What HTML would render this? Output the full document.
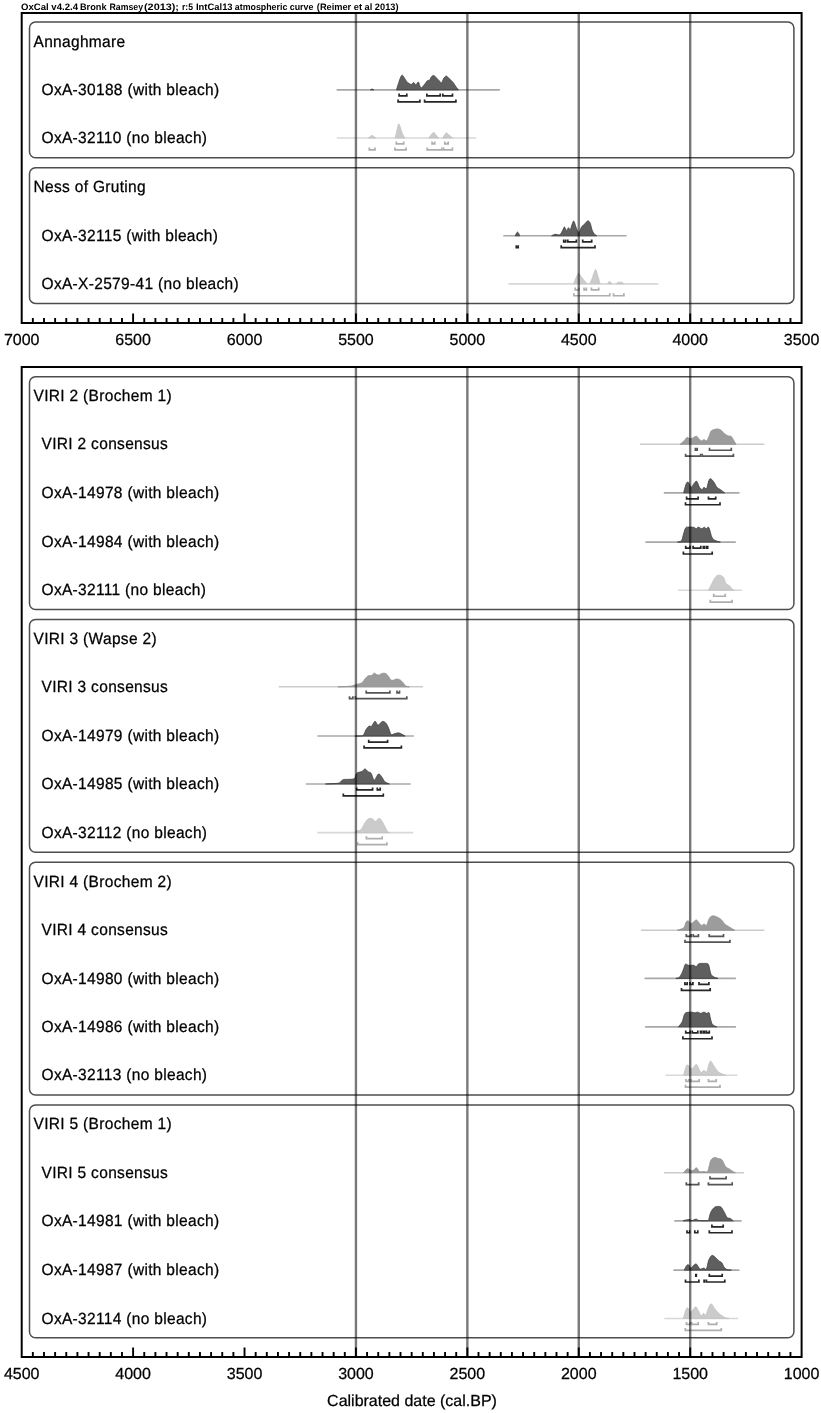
<!DOCTYPE html>
<html><head><meta charset="utf-8"><title>OxCal plot</title>
<style>html,body{margin:0;padding:0;background:#fff;width:821px;height:1413px;overflow:hidden}</style>
</head><body>
<svg width="821" height="1413" viewBox="0 0 821 1413" style="display:block" text-rendering="geometricPrecision">
<rect x="0" y="0" width="821" height="1413" fill="#fff"/>
<text y="10.3" font-family="'Liberation Sans', Arial, sans-serif" font-weight="bold" font-size="9.3" fill="#000" xml:space="preserve"><tspan x="21" textLength="57" lengthAdjust="spacingAndGlyphs">OxCal v4.2.4</tspan> <tspan x="80" textLength="26.5" lengthAdjust="spacingAndGlyphs">Bronk</tspan> <tspan x="109.5" textLength="33.5" lengthAdjust="spacingAndGlyphs">Ramsey</tspan> <tspan x="144" textLength="35" lengthAdjust="spacingAndGlyphs">(2013);</tspan> <tspan x="182" textLength="11" lengthAdjust="spacingAndGlyphs">r:5</tspan> <tspan x="196" textLength="36.6" lengthAdjust="spacingAndGlyphs">IntCal13</tspan> <tspan x="234.8" textLength="78.6" lengthAdjust="spacingAndGlyphs">atmospheric curve</tspan> <tspan x="316.8" textLength="81.7" lengthAdjust="spacingAndGlyphs">(Reimer et al 2013)</tspan></text>
<rect x="29.5" y="22.08" width="764.4" height="135.65" rx="6" ry="6" fill="none" stroke="#4d4d4d" stroke-width="1.5"/>
<text transform="translate(33.5,46.58) scale(1,1.045)" font-family="'Liberation Sans', Arial, sans-serif" font-size="15.5" letter-spacing="0.32" fill="#000" stroke="#000" stroke-width="0.25">Annaghmare</text>
<text transform="translate(41.5,95) scale(1,1.045)" font-family="'Liberation Sans', Arial, sans-serif" font-size="15.5" letter-spacing="0.32" fill="#000" stroke="#000" stroke-width="0.25">OxA-30188 (with bleach)</text>
<text transform="translate(41.5,143.05) scale(1,1.045)" font-family="'Liberation Sans', Arial, sans-serif" font-size="15.5" letter-spacing="0.32" fill="#000" stroke="#000" stroke-width="0.25">OxA-32110 (no bleach)</text>
<rect x="29.5" y="167.73" width="764.4" height="135.65" rx="6" ry="6" fill="none" stroke="#4d4d4d" stroke-width="1.5"/>
<text transform="translate(33.5,192.23) scale(1,1.045)" font-family="'Liberation Sans', Arial, sans-serif" font-size="15.5" letter-spacing="0.32" fill="#000" stroke="#000" stroke-width="0.25">Ness of Gruting</text>
<text transform="translate(41.5,240.9) scale(1,1.045)" font-family="'Liberation Sans', Arial, sans-serif" font-size="15.5" letter-spacing="0.32" fill="#000" stroke="#000" stroke-width="0.25">OxA-32115 (with bleach)</text>
<text transform="translate(41.5,288.94) scale(1,1.045)" font-family="'Liberation Sans', Arial, sans-serif" font-size="15.5" letter-spacing="0.32" fill="#000" stroke="#000" stroke-width="0.25">OxA-X-2579-41 (no bleach)</text>
<line x1="336.6" y1="89.9" x2="499.9" y2="89.9" stroke="#a8a8a8" stroke-width="1.6"/>
<path d="M370.5,89.9 L370.7,89.77 L370.97,89.56 L371.29,89.34 L371.64,89.17 L372,89.1 L372.4,89.17 L372.86,89.34 L373.32,89.56 L373.72,89.77 L374,89.9Z" fill="#5f5f5f" stroke="#3c3c3c" stroke-width="0.8" stroke-linejoin="round"/>
<path d="M396.4,89.9 L396.61,89.24 L396.91,88.31 L397.25,87.21 L397.63,86.04 L398,84.9 L398.37,83.73 L398.77,82.46 L399.18,81.18 L399.59,79.97 L400,78.9 L400.4,77.92 L400.8,76.97 L401.2,76.14 L401.6,75.53 L402,75.2 L402.39,75.23 L402.77,75.56 L403.16,76.1 L403.56,76.74 L404,77.4 L404.48,78.13 L405.01,79.01 L405.55,79.93 L406.08,80.79 L406.6,81.5 L407.09,82.04 L407.57,82.46 L408.04,82.81 L408.52,83.11 L409,83.4 L409.5,83.7 L410.01,84 L410.52,84.25 L411.02,84.4 L411.5,84.4 L411.96,84.14 L412.4,83.64 L412.83,83.09 L413.26,82.65 L413.7,82.5 L414.14,82.79 L414.57,83.4 L415.01,84.12 L415.45,84.69 L415.9,84.9 L416.38,84.54 L416.88,83.78 L417.38,82.9 L417.86,82.2 L418.3,82 L418.69,82.44 L419.04,83.34 L419.37,84.44 L419.68,85.5 L420,86.3 L420.28,86.87 L420.52,87.36 L420.77,87.72 L421.08,87.89 L421.5,87.8 L422.07,87.35 L422.77,86.59 L423.52,85.66 L424.25,84.72 L424.9,83.9 L425.44,83.19 L425.93,82.49 L426.39,81.84 L426.84,81.26 L427.3,80.8 L427.79,80.53 L428.3,80.42 L428.8,80.36 L429.28,80.26 L429.7,80 L430.04,79.54 L430.32,78.93 L430.58,78.27 L430.86,77.64 L431.2,77.1 L431.62,76.62 L432.09,76.15 L432.59,75.74 L433.1,75.47 L433.6,75.4 L434.08,75.57 L434.55,75.94 L435.03,76.45 L435.54,77.02 L436.1,77.6 L436.75,78.23 L437.47,78.94 L438.2,79.68 L438.9,80.39 L439.5,81 L439.97,81.6 L440.34,82.23 L440.67,82.76 L441.01,83.06 L441.4,83 L441.86,82.42 L442.36,81.4 L442.88,80.18 L443.4,79 L443.9,78.1 L444.38,77.44 L444.84,76.88 L445.31,76.44 L445.79,76.17 L446.3,76.1 L446.83,76.29 L447.38,76.71 L447.94,77.28 L448.55,77.94 L449.2,78.6 L449.93,79.28 L450.73,80.04 L451.56,80.84 L452.36,81.67 L453.1,82.5 L453.77,83.37 L454.39,84.29 L454.99,85.22 L455.55,86.1 L456.1,86.9 L456.66,87.64 L457.22,88.34 L457.74,88.98 L458.18,89.51 L458.5,89.9Z" fill="#5f5f5f" stroke="#3c3c3c" stroke-width="0.8" stroke-linejoin="round"/>
<path d="M399.1,93.5 V95.9 H406.8 V93.5" fill="none" stroke="#262626" stroke-width="1.7"/>
<path d="M426.9,93.5 V95.9 H440.2 V93.5" fill="none" stroke="#262626" stroke-width="1.7"/>
<path d="M442.8,93.5 V95.9 H452.5 V93.5" fill="none" stroke="#262626" stroke-width="1.7"/>
<path d="M398.1,99.4 V101.8 H419.9 V99.4" fill="none" stroke="#262626" stroke-width="1.7"/>
<path d="M424.6,99.4 V101.8 H455.9 V99.4" fill="none" stroke="#262626" stroke-width="1.7"/>
<line x1="336.8" y1="137.95" x2="476.2" y2="137.95" stroke="#d8d8d8" stroke-width="1.6"/>
<path d="M368.5,137.95 L368.94,137.55 L369.55,136.93 L370.27,136.28 L371.04,135.76 L371.8,135.55 L372.62,135.76 L373.54,136.28 L374.45,136.93 L375.24,137.55 L375.8,137.95Z" fill="#cbcbcb" stroke="#c2c2c2" stroke-width="0.8" stroke-linejoin="round"/>
<path d="M395.3,137.95 L395.53,136.83 L395.86,135.23 L396.24,133.39 L396.63,131.55 L397,129.95 L397.34,128.46 L397.68,126.93 L398.01,125.53 L398.35,124.48 L398.7,123.95 L399.05,124.08 L399.4,124.73 L399.76,125.73 L400.13,126.86 L400.5,127.95 L400.88,129.05 L401.26,130.3 L401.65,131.6 L402.06,132.85 L402.5,133.95 L403.01,134.94 L403.58,135.89 L404.16,136.73 L404.65,137.44 L405,137.95Z" fill="#cbcbcb" stroke="#c2c2c2" stroke-width="0.8" stroke-linejoin="round"/>
<path d="M428.8,137.95 L429.09,137.53 L429.5,136.94 L429.98,136.26 L430.49,135.57 L431,134.95 L431.51,134.34 L432.06,133.67 L432.62,133.07 L433.18,132.62 L433.7,132.45 L434.18,132.62 L434.64,133.07 L435.08,133.67 L435.53,134.34 L436,134.95 L436.53,135.57 L437.11,136.26 L437.67,136.94 L438.16,137.53 L438.5,137.95Z" fill="#cbcbcb" stroke="#c2c2c2" stroke-width="0.8" stroke-linejoin="round"/>
<path d="M442.8,137.95 L443.26,137.17 L443.9,136.02 L444.65,134.76 L445.41,133.67 L446.1,133.05 L446.69,132.98 L447.26,133.27 L447.81,133.78 L448.38,134.39 L449,134.95 L449.73,135.53 L450.56,136.21 L451.39,136.91 L452.1,137.52 L452.6,137.95Z" fill="#cbcbcb" stroke="#c2c2c2" stroke-width="0.8" stroke-linejoin="round"/>
<path d="M396.3,141.55 V143.95 H403.7 V141.55" fill="none" stroke="#aeaeae" stroke-width="1.7"/>
<path d="M432.1,141.55 V143.95 H434.7 V141.55" fill="none" stroke="#aeaeae" stroke-width="1.7"/>
<path d="M444.8,141.55 V143.95 H448.2 V141.55" fill="none" stroke="#aeaeae" stroke-width="1.7"/>
<path d="M369.3,147.45 V149.85 H375 V147.45" fill="none" stroke="#aeaeae" stroke-width="1.7"/>
<path d="M394.9,147.45 V149.85 H406.1 V147.45" fill="none" stroke="#aeaeae" stroke-width="1.7"/>
<path d="M427.2,147.45 V149.85 H442 V147.45" fill="none" stroke="#aeaeae" stroke-width="1.7"/>
<path d="M443.6,147.45 V149.85 H452.4 V147.45" fill="none" stroke="#aeaeae" stroke-width="1.7"/>
<line x1="503.3" y1="235.8" x2="626.5" y2="235.8" stroke="#a8a8a8" stroke-width="1.6"/>
<path d="M515.2,235.8 L515.51,235.18 L515.95,234.23 L516.47,233.22 L517,232.43 L517.5,232.1 L518,232.43 L518.53,233.22 L519.05,234.23 L519.49,235.18 L519.8,235.8Z" fill="#5f5f5f" stroke="#3c3c3c" stroke-width="0.8" stroke-linejoin="round"/>
<path d="M551.6,235.8 L552.08,235.56 L552.74,235.21 L553.53,234.83 L554.37,234.5 L555.2,234.3 L556.05,234.35 L556.97,234.58 L557.91,234.84 L558.8,234.96 L559.6,234.8 L560.29,234.27 L560.92,233.47 L561.48,232.53 L562.01,231.57 L562.5,230.7 L562.94,229.82 L563.32,228.84 L563.67,227.93 L564.02,227.26 L564.4,227 L564.83,227.37 L565.28,228.27 L565.73,229.35 L566.18,230.27 L566.6,230.7 L566.99,230.45 L567.35,229.73 L567.7,228.85 L568.05,228.07 L568.4,227.7 L568.75,227.95 L569.1,228.62 L569.45,229.4 L569.81,229.93 L570.2,229.9 L570.63,229.09 L571.08,227.72 L571.55,226.11 L572,224.56 L572.4,223.4 L572.74,222.57 L573.04,221.86 L573.31,221.35 L573.59,221.1 L573.9,221.2 L574.23,221.75 L574.58,222.71 L574.94,223.91 L575.31,225.16 L575.7,226.3 L576.13,227.39 L576.58,228.55 L577.05,229.68 L577.5,230.66 L577.9,231.4 L578.24,231.91 L578.52,232.28 L578.79,232.45 L579.07,232.4 L579.4,232.1 L579.79,231.39 L580.23,230.3 L580.67,229.05 L581.11,227.88 L581.5,227 L581.82,226.51 L582.08,226.25 L582.33,226.1 L582.62,225.92 L583,225.6 L583.5,225.08 L584.09,224.46 L584.72,223.79 L585.34,223.15 L585.9,222.6 L586.38,222.09 L586.83,221.58 L587.25,221.15 L587.67,220.86 L588.1,220.8 L588.55,220.99 L589.01,221.37 L589.47,221.92 L589.9,222.6 L590.3,223.4 L590.63,224.38 L590.92,225.56 L591.18,226.83 L591.47,228.08 L591.8,229.2 L592.18,230.2 L592.6,231.17 L593.04,232.07 L593.5,232.88 L594,233.6 L594.58,234.22 L595.25,234.74 L595.92,235.18 L596.49,235.54 L596.9,235.8Z" fill="#5f5f5f" stroke="#3c3c3c" stroke-width="0.8" stroke-linejoin="round"/>
<path d="M563.7,239.4 V241.8 H565.7 V239.4" fill="none" stroke="#262626" stroke-width="1.7"/>
<path d="M567.8,239.4 V241.8 H576.4 V239.4" fill="none" stroke="#262626" stroke-width="1.7"/>
<path d="M582.7,239.4 V241.8 H591.7 V239.4" fill="none" stroke="#262626" stroke-width="1.7"/>
<path d="M516.3,245.3 V247.7 H518.2 V245.3" fill="none" stroke="#262626" stroke-width="1.7"/>
<path d="M561.2,245.3 V247.7 H595 V245.3" fill="none" stroke="#262626" stroke-width="1.7"/>
<line x1="508.3" y1="283.84" x2="658.4" y2="283.84" stroke="#d8d8d8" stroke-width="1.6"/>
<path d="M573.5,283.84 L573.84,283 L574.32,281.81 L574.87,280.44 L575.45,279.06 L576,277.84 L576.52,276.68 L577.07,275.47 L577.61,274.36 L578.12,273.49 L578.6,273.04 L579.03,273.13 L579.43,273.66 L579.8,274.43 L580.16,275.22 L580.5,275.84 L580.81,276.24 L581.08,276.56 L581.35,276.87 L581.64,277.21 L582,277.64 L582.43,278.19 L582.92,278.83 L583.44,279.51 L583.97,280.19 L584.5,280.84 L585.07,281.5 L585.7,282.2 L586.3,282.87 L586.83,283.44 L587.2,283.84Z" fill="#cbcbcb" stroke="#c2c2c2" stroke-width="0.8" stroke-linejoin="round"/>
<path d="M589.7,283.84 L589.96,283.27 L590.33,282.46 L590.75,281.52 L591.16,280.61 L591.5,279.84 L591.74,279.28 L591.93,278.83 L592.1,278.41 L592.28,277.94 L592.5,277.34 L592.76,276.55 L593.05,275.62 L593.36,274.64 L593.68,273.69 L594,272.84 L594.33,271.98 L594.66,271.06 L595,270.25 L595.35,269.72 L595.7,269.64 L596.06,270.15 L596.43,271.12 L596.8,272.37 L597.16,273.68 L597.5,274.84 L597.83,275.87 L598.15,276.9 L598.45,277.92 L598.74,278.91 L599,279.84 L599.25,280.77 L599.48,281.7 L599.7,282.58 L599.87,283.31 L600,283.84Z" fill="#cbcbcb" stroke="#c2c2c2" stroke-width="0.8" stroke-linejoin="round"/>
<path d="M607.6,283.84 L607.85,283.42 L608.2,282.78 L608.61,282.1 L609.06,281.56 L609.5,281.34 L609.99,281.56 L610.54,282.1 L611.09,282.78 L611.57,283.42 L611.9,283.84Z" fill="#cbcbcb" stroke="#c2c2c2" stroke-width="0.8" stroke-linejoin="round"/>
<path d="M616.2,283.84 L616.41,283.61 L616.68,283.28 L617.04,282.9 L617.47,282.57 L618,282.34 L618.69,282.22 L619.55,282.16 L620.45,282.16 L621.31,282.22 L622,282.34 L622.53,282.57 L622.96,282.9 L623.32,283.28 L623.59,283.61 L623.8,283.84Z" fill="#cbcbcb" stroke="#c2c2c2" stroke-width="0.8" stroke-linejoin="round"/>
<path d="M575.2,287.44 V289.84 H578.7 V287.44" fill="none" stroke="#aeaeae" stroke-width="1.7"/>
<path d="M584.1,287.44 V289.84 H586.4 V287.44" fill="none" stroke="#aeaeae" stroke-width="1.7"/>
<path d="M591.4,287.44 V289.84 H598.7 V287.44" fill="none" stroke="#aeaeae" stroke-width="1.7"/>
<path d="M573.9,293.34 V295.74 H609.8 V293.34" fill="none" stroke="#aeaeae" stroke-width="1.7"/>
<path d="M613.5,293.34 V295.74 H623.9 V293.34" fill="none" stroke="#aeaeae" stroke-width="1.7"/>
<line x1="355.94" y1="13" x2="355.94" y2="323" stroke="#000" stroke-opacity="0.53" stroke-width="2.4"/>
<line x1="467.36" y1="13" x2="467.36" y2="323" stroke="#000" stroke-opacity="0.53" stroke-width="2.4"/>
<line x1="578.77" y1="13" x2="578.77" y2="323" stroke="#000" stroke-opacity="0.53" stroke-width="2.4"/>
<line x1="690.19" y1="13" x2="690.19" y2="323" stroke="#000" stroke-opacity="0.53" stroke-width="2.4"/>
<rect x="21.7" y="13" width="779.9" height="310" fill="none" stroke="#000" stroke-width="2"/>
<path d="M32.84,323 V318 M43.98,323 V318 M55.12,323 V318 M66.27,323 V318 M77.41,323 V318 M88.55,323 V318 M99.69,323 V318 M110.83,323 V318 M121.97,323 V318 M133.11,323 V313.5 M144.26,323 V318 M155.4,323 V318 M166.54,323 V318 M177.68,323 V318 M188.82,323 V318 M199.96,323 V318 M211.1,323 V318 M222.25,323 V318 M233.39,323 V318 M244.53,323 V313.5 M255.67,323 V318 M266.81,323 V318 M277.95,323 V318 M289.09,323 V318 M300.24,323 V318 M311.38,323 V318 M322.52,323 V318 M333.66,323 V318 M344.8,323 V318 M355.94,323 V313.5 M367.08,323 V318 M378.23,323 V318 M389.37,323 V318 M400.51,323 V318 M411.65,323 V318 M422.79,323 V318 M433.93,323 V318 M445.07,323 V318 M456.22,323 V318 M467.36,323 V313.5 M478.5,323 V318 M489.64,323 V318 M500.78,323 V318 M511.92,323 V318 M523.06,323 V318 M534.21,323 V318 M545.35,323 V318 M556.49,323 V318 M567.63,323 V318 M578.77,323 V313.5 M589.91,323 V318 M601.05,323 V318 M612.2,323 V318 M623.34,323 V318 M634.48,323 V318 M645.62,323 V318 M656.76,323 V318 M667.9,323 V318 M679.04,323 V318 M690.19,323 V313.5 M701.33,323 V318 M712.47,323 V318 M723.61,323 V318 M734.75,323 V318 M745.89,323 V318 M757.03,323 V318 M768.18,323 V318 M779.32,323 V318 M790.46,323 V318" stroke="#000" stroke-width="1.9" fill="none"/>
<text transform="translate(21.7,345) scale(1,1.0)" font-family="'Liberation Sans', Arial, sans-serif" font-size="16" text-anchor="middle" fill="#000" stroke="#000" stroke-width="0.25">7000</text>
<text transform="translate(133.11,345) scale(1,1.0)" font-family="'Liberation Sans', Arial, sans-serif" font-size="16" text-anchor="middle" fill="#000" stroke="#000" stroke-width="0.25">6500</text>
<text transform="translate(244.53,345) scale(1,1.0)" font-family="'Liberation Sans', Arial, sans-serif" font-size="16" text-anchor="middle" fill="#000" stroke="#000" stroke-width="0.25">6000</text>
<text transform="translate(355.94,345) scale(1,1.0)" font-family="'Liberation Sans', Arial, sans-serif" font-size="16" text-anchor="middle" fill="#000" stroke="#000" stroke-width="0.25">5500</text>
<text transform="translate(467.36,345) scale(1,1.0)" font-family="'Liberation Sans', Arial, sans-serif" font-size="16" text-anchor="middle" fill="#000" stroke="#000" stroke-width="0.25">5000</text>
<text transform="translate(578.77,345) scale(1,1.0)" font-family="'Liberation Sans', Arial, sans-serif" font-size="16" text-anchor="middle" fill="#000" stroke="#000" stroke-width="0.25">4500</text>
<text transform="translate(690.19,345) scale(1,1.0)" font-family="'Liberation Sans', Arial, sans-serif" font-size="16" text-anchor="middle" fill="#000" stroke="#000" stroke-width="0.25">4000</text>
<text transform="translate(801.6,345) scale(1,1.0)" font-family="'Liberation Sans', Arial, sans-serif" font-size="16" text-anchor="middle" fill="#000" stroke="#000" stroke-width="0.25">3500</text>
<rect x="29.5" y="376.69" width="764.4" height="232.75" rx="6" ry="6" fill="none" stroke="#4d4d4d" stroke-width="1.5"/>
<text transform="translate(33.5,401.19) scale(1,1.045)" font-family="'Liberation Sans', Arial, sans-serif" font-size="15.5" letter-spacing="0.32" fill="#000" stroke="#000" stroke-width="0.25">VIRI 2 (Brochem 1)</text>
<text transform="translate(41.5,449.37) scale(1,1.045)" font-family="'Liberation Sans', Arial, sans-serif" font-size="15.5" letter-spacing="0.32" fill="#000" stroke="#000" stroke-width="0.25">VIRI 2 consensus</text>
<text transform="translate(41.5,497.95) scale(1,1.045)" font-family="'Liberation Sans', Arial, sans-serif" font-size="15.5" letter-spacing="0.32" fill="#000" stroke="#000" stroke-width="0.25">OxA-14978 (with bleach)</text>
<text transform="translate(41.5,547.2) scale(1,1.045)" font-family="'Liberation Sans', Arial, sans-serif" font-size="15.5" letter-spacing="0.32" fill="#000" stroke="#000" stroke-width="0.25">OxA-14984 (with bleach)</text>
<text transform="translate(41.5,595.34) scale(1,1.045)" font-family="'Liberation Sans', Arial, sans-serif" font-size="15.5" letter-spacing="0.32" fill="#000" stroke="#000" stroke-width="0.25">OxA-32111 (no bleach)</text>
<rect x="29.5" y="619.44" width="764.4" height="232.75" rx="6" ry="6" fill="none" stroke="#4d4d4d" stroke-width="1.5"/>
<text transform="translate(33.5,643.94) scale(1,1.045)" font-family="'Liberation Sans', Arial, sans-serif" font-size="15.5" letter-spacing="0.32" fill="#000" stroke="#000" stroke-width="0.25">VIRI 3 (Wapse 2)</text>
<text transform="translate(41.5,691.9) scale(1,1.045)" font-family="'Liberation Sans', Arial, sans-serif" font-size="15.5" letter-spacing="0.32" fill="#000" stroke="#000" stroke-width="0.25">VIRI 3 consensus</text>
<text transform="translate(41.5,741.16) scale(1,1.045)" font-family="'Liberation Sans', Arial, sans-serif" font-size="15.5" letter-spacing="0.32" fill="#000" stroke="#000" stroke-width="0.25">OxA-14979 (with bleach)</text>
<text transform="translate(41.5,789.06) scale(1,1.045)" font-family="'Liberation Sans', Arial, sans-serif" font-size="15.5" letter-spacing="0.32" fill="#000" stroke="#000" stroke-width="0.25">OxA-14985 (with bleach)</text>
<text transform="translate(41.5,837.76) scale(1,1.045)" font-family="'Liberation Sans', Arial, sans-serif" font-size="15.5" letter-spacing="0.32" fill="#000" stroke="#000" stroke-width="0.25">OxA-32112 (no bleach)</text>
<rect x="29.5" y="862.19" width="764.4" height="232.75" rx="6" ry="6" fill="none" stroke="#4d4d4d" stroke-width="1.5"/>
<text transform="translate(33.5,886.69) scale(1,1.045)" font-family="'Liberation Sans', Arial, sans-serif" font-size="15.5" letter-spacing="0.32" fill="#000" stroke="#000" stroke-width="0.25">VIRI 4 (Brochem 2)</text>
<text transform="translate(41.5,935.38) scale(1,1.045)" font-family="'Liberation Sans', Arial, sans-serif" font-size="15.5" letter-spacing="0.32" fill="#000" stroke="#000" stroke-width="0.25">VIRI 4 consensus</text>
<text transform="translate(41.5,983.5) scale(1,1.045)" font-family="'Liberation Sans', Arial, sans-serif" font-size="15.5" letter-spacing="0.32" fill="#000" stroke="#000" stroke-width="0.25">OxA-14980 (with bleach)</text>
<text transform="translate(41.5,1031.94) scale(1,1.045)" font-family="'Liberation Sans', Arial, sans-serif" font-size="15.5" letter-spacing="0.32" fill="#000" stroke="#000" stroke-width="0.25">OxA-14986 (with bleach)</text>
<text transform="translate(41.5,1080.4) scale(1,1.045)" font-family="'Liberation Sans', Arial, sans-serif" font-size="15.5" letter-spacing="0.32" fill="#000" stroke="#000" stroke-width="0.25">OxA-32113 (no bleach)</text>
<rect x="29.5" y="1104.94" width="764.4" height="232.75" rx="6" ry="6" fill="none" stroke="#4d4d4d" stroke-width="1.5"/>
<text transform="translate(33.5,1129.44) scale(1,1.045)" font-family="'Liberation Sans', Arial, sans-serif" font-size="15.5" letter-spacing="0.32" fill="#000" stroke="#000" stroke-width="0.25">VIRI 5 (Brochem 1)</text>
<text transform="translate(41.5,1177.8) scale(1,1.045)" font-family="'Liberation Sans', Arial, sans-serif" font-size="15.5" letter-spacing="0.32" fill="#000" stroke="#000" stroke-width="0.25">VIRI 5 consensus</text>
<text transform="translate(41.5,1225.93) scale(1,1.045)" font-family="'Liberation Sans', Arial, sans-serif" font-size="15.5" letter-spacing="0.32" fill="#000" stroke="#000" stroke-width="0.25">OxA-14981 (with bleach)</text>
<text transform="translate(41.5,1275.2) scale(1,1.045)" font-family="'Liberation Sans', Arial, sans-serif" font-size="15.5" letter-spacing="0.32" fill="#000" stroke="#000" stroke-width="0.25">OxA-14987 (with bleach)</text>
<text transform="translate(41.5,1323.55) scale(1,1.045)" font-family="'Liberation Sans', Arial, sans-serif" font-size="15.5" letter-spacing="0.32" fill="#000" stroke="#000" stroke-width="0.25">OxA-32114 (no bleach)</text>
<line x1="640" y1="444.27" x2="764.3" y2="444.27" stroke="#cbcbcb" stroke-width="1.6"/>
<path d="M680.1,444.27 L680.71,443.74 L681.6,442.99 L682.6,442.11 L683.59,441.24 L684.4,440.47 L685.01,439.76 L685.52,439.03 L685.98,438.35 L686.42,437.81 L686.9,437.47 L687.42,437.41 L687.94,437.59 L688.46,437.89 L688.98,438.19 L689.5,438.37 L689.98,438.46 L690.42,438.54 L690.88,438.57 L691.39,438.53 L692,438.37 L692.77,437.99 L693.67,437.42 L694.62,436.81 L695.52,436.34 L696.3,436.17 L696.93,436.39 L697.47,436.89 L697.95,437.54 L698.41,438.21 L698.9,438.77 L699.4,439.28 L699.9,439.81 L700.4,440.3 L700.9,440.68 L701.4,440.87 L701.92,440.79 L702.44,440.47 L702.96,440.07 L703.48,439.72 L704,439.57 L704.5,439.76 L705,440.19 L705.5,440.66 L706,440.95 L706.5,440.87 L707.03,440.31 L707.58,439.42 L708.12,438.34 L708.64,437.21 L709.1,436.17 L709.48,435.18 L709.8,434.15 L710.1,433.13 L710.42,432.22 L710.8,431.47 L711.24,430.92 L711.7,430.53 L712.2,430.24 L712.76,430 L713.4,429.77 L714.15,429.52 L715,429.29 L715.9,429.1 L716.79,428.99 L717.6,428.97 L718.33,429.05 L719.02,429.2 L719.68,429.44 L720.33,429.76 L721,430.17 L721.68,430.73 L722.36,431.43 L723.03,432.19 L723.71,432.93 L724.4,433.57 L725.1,434.11 L725.8,434.6 L726.5,435.05 L727.2,435.44 L727.9,435.77 L728.6,435.97 L729.31,436.04 L730.01,436.09 L730.68,436.23 L731.3,436.57 L731.86,437.15 L732.38,437.91 L732.86,438.77 L733.33,439.65 L733.8,440.47 L734.29,441.3 L734.81,442.18 L735.29,443.03 L735.71,443.75 L736,444.27Z" fill="#9c9c9c" stroke="#909090" stroke-width="0.8" stroke-linejoin="round"/>
<path d="M695.4,447.87 V450.27 H697.2 V447.87" fill="none" stroke="#555" stroke-width="1.7"/>
<path d="M709.5,447.87 V450.27 H731.3 V447.87" fill="none" stroke="#555" stroke-width="1.7"/>
<path d="M685.6,453.77 V456.17 H700.6 V453.77" fill="none" stroke="#555" stroke-width="1.7"/>
<path d="M702.2,453.77 V456.17 H733.4 V453.77" fill="none" stroke="#555" stroke-width="1.7"/>
<line x1="663.8" y1="492.85" x2="739.5" y2="492.85" stroke="#a8a8a8" stroke-width="1.6"/>
<path d="M683.6,492.85 L683.98,491.45 L684.51,489.41 L685.13,487.13 L685.75,485.03 L686.3,483.55 L686.76,482.71 L687.19,482.23 L687.61,482.06 L688.04,482.15 L688.5,482.45 L689.01,483.19 L689.54,484.4 L690.09,485.73 L690.65,486.83 L691.2,487.35 L691.76,487.12 L692.32,486.38 L692.88,485.37 L693.44,484.35 L694,483.55 L694.54,482.88 L695.08,482.16 L695.62,481.56 L696.16,481.24 L696.7,481.35 L697.26,482.09 L697.82,483.34 L698.38,484.83 L698.94,486.26 L699.5,487.35 L700.06,488.1 L700.64,488.71 L701.2,489.17 L701.73,489.45 L702.2,489.55 L702.59,489.34 L702.9,488.83 L703.2,488.2 L703.51,487.65 L703.9,487.35 L704.38,487.5 L704.93,487.97 L705.51,488.49 L706.08,488.74 L706.6,488.45 L707.08,487.38 L707.54,485.73 L707.97,483.85 L708.39,482.07 L708.8,480.75 L709.16,479.89 L709.49,479.25 L709.81,478.83 L710.16,478.63 L710.6,478.65 L711.13,478.93 L711.74,479.48 L712.38,480.22 L713.05,481.07 L713.7,481.95 L714.35,482.95 L715.01,484.11 L715.67,485.32 L716.34,486.44 L717,487.35 L717.64,487.98 L718.27,488.41 L718.9,488.74 L719.57,489.09 L720.3,489.55 L721.18,490.19 L722.19,490.95 L723.2,491.71 L724.08,492.38 L724.7,492.85Z" fill="#5f5f5f" stroke="#3c3c3c" stroke-width="0.8" stroke-linejoin="round"/>
<path d="M686.6,496.45 V498.85 H698.1 V496.45" fill="none" stroke="#262626" stroke-width="1.7"/>
<path d="M708.5,496.45 V498.85 H715.7 V496.45" fill="none" stroke="#262626" stroke-width="1.7"/>
<path d="M685.5,502.35 V504.75 H720 V502.35" fill="none" stroke="#262626" stroke-width="1.7"/>
<line x1="645.4" y1="542.1" x2="735.8" y2="542.1" stroke="#a8a8a8" stroke-width="1.6"/>
<path d="M677.5,542.1 L678.08,541.98 L678.91,541.85 L679.85,541.63 L680.76,541.24 L681.5,540.6 L682.03,539.61 L682.44,538.34 L682.79,536.91 L683.13,535.45 L683.5,534.1 L683.91,532.77 L684.31,531.38 L684.72,530.05 L685.15,528.88 L685.6,528 L686.04,527.47 L686.47,527.21 L686.93,527.13 L687.49,527.13 L688.2,527.1 L689.14,527.05 L690.29,527.04 L691.5,527.08 L692.65,527.17 L693.6,527.3 L694.32,527.55 L694.91,527.92 L695.4,528.3 L695.85,528.59 L696.3,528.7 L696.72,528.52 L697.09,528.12 L697.44,527.65 L697.83,527.26 L698.3,527.1 L698.89,527.26 L699.56,527.65 L700.26,528.12 L700.96,528.52 L701.6,528.7 L702.19,528.57 L702.76,528.22 L703.3,527.8 L703.81,527.45 L704.3,527.3 L704.74,527.45 L705.15,527.8 L705.53,528.22 L705.91,528.57 L706.3,528.7 L706.71,528.5 L707.13,528.06 L707.54,527.56 L707.94,527.18 L708.3,527.1 L708.61,527.33 L708.87,527.75 L709.13,528.35 L709.39,529.1 L709.7,530 L710.05,531.15 L710.42,532.56 L710.82,534.08 L711.25,535.51 L711.7,536.7 L712.14,537.61 L712.57,538.36 L713.05,539 L713.64,539.56 L714.4,540.1 L715.48,540.62 L716.85,541.1 L718.27,541.51 L719.53,541.85 L720.4,542.1Z" fill="#5f5f5f" stroke="#3c3c3c" stroke-width="0.8" stroke-linejoin="round"/>
<path d="M685.7,545.7 V548.1 H690.1 V545.7" fill="none" stroke="#262626" stroke-width="1.7"/>
<path d="M693.1,545.7 V548.1 H700.8 V545.7" fill="none" stroke="#262626" stroke-width="1.7"/>
<path d="M703.3,545.7 V548.1 H704.7 V545.7" fill="none" stroke="#262626" stroke-width="1.7"/>
<path d="M706.8,545.7 V548.1 H707.7 V545.7" fill="none" stroke="#262626" stroke-width="1.7"/>
<path d="M683.4,551.6 V554 H712.2 V551.6" fill="none" stroke="#262626" stroke-width="1.7"/>
<line x1="677.8" y1="590.24" x2="742.1" y2="590.24" stroke="#d8d8d8" stroke-width="1.6"/>
<path d="M708.5,590.24 L708.95,589.32 L709.59,588.01 L710.34,586.49 L711.13,584.91 L711.9,583.44 L712.65,582 L713.42,580.47 L714.22,578.98 L715.01,577.66 L715.8,576.64 L716.58,575.94 L717.36,575.47 L718.14,575.2 L718.92,575.11 L719.7,575.14 L720.5,575.31 L721.33,575.65 L722.15,576.14 L722.92,576.77 L723.6,577.54 L724.16,578.55 L724.62,579.82 L725.03,581.16 L725.47,582.43 L726,583.44 L726.64,584.13 L727.35,584.6 L728.09,584.98 L728.82,585.35 L729.5,585.84 L730.13,586.49 L730.75,587.24 L731.34,588 L731.89,588.7 L732.4,589.24 L732.87,589.61 L733.32,589.86 L733.72,590.03 L734.06,590.14 L734.3,590.24Z" fill="#cbcbcb" stroke="#c2c2c2" stroke-width="0.8" stroke-linejoin="round"/>
<path d="M713.7,593.84 V596.24 H725.2 V593.84" fill="none" stroke="#aeaeae" stroke-width="1.7"/>
<path d="M710.3,599.74 V602.14 H732.1 V599.74" fill="none" stroke="#aeaeae" stroke-width="1.7"/>
<line x1="278.8" y1="686.8" x2="423" y2="686.8" stroke="#cbcbcb" stroke-width="1.6"/>
<path d="M338,686.8 L339.72,686.74 L342.2,686.66 L345.03,686.55 L347.77,686.4 L350,686.2 L351.65,685.93 L353.01,685.6 L354.17,685.24 L355.27,684.86 L356.4,684.5 L357.59,684.19 L358.75,683.92 L359.87,683.63 L360.93,683.24 L361.9,682.7 L362.77,681.92 L363.56,680.95 L364.28,679.91 L364.95,678.92 L365.6,678.1 L366.19,677.46 L366.7,676.93 L367.2,676.48 L367.71,676.11 L368.3,675.8 L369,675.61 L369.78,675.55 L370.58,675.54 L371.34,675.48 L372,675.3 L372.53,674.91 L372.98,674.37 L373.38,673.8 L373.78,673.34 L374.2,673.1 L374.65,673.17 L375.09,673.45 L375.54,673.84 L376.01,674.23 L376.5,674.5 L377.03,674.67 L377.59,674.82 L378.16,674.92 L378.74,674.96 L379.3,674.9 L379.83,674.69 L380.34,674.36 L380.85,673.97 L381.4,673.62 L382,673.4 L382.69,673.29 L383.46,673.24 L384.24,673.26 L385.01,673.37 L385.7,673.6 L386.3,673.96 L386.85,674.45 L387.37,675.03 L387.88,675.66 L388.4,676.3 L388.94,677.04 L389.48,677.89 L390.01,678.74 L390.55,679.48 L391.1,680 L391.66,680.25 L392.22,680.31 L392.78,680.25 L393.34,680.12 L393.9,680 L394.43,679.83 L394.94,679.58 L395.45,679.3 L396,679.09 L396.6,679 L397.29,679.04 L398.06,679.17 L398.84,679.38 L399.61,679.66 L400.3,680 L400.9,680.42 L401.45,680.93 L401.96,681.5 L402.47,682.09 L403,682.7 L403.54,683.36 L404.07,684.1 L404.62,684.83 L405.19,685.49 L405.8,686 L406.53,686.33 L407.36,686.54 L408.18,686.66 L408.9,686.73 L409.4,686.8Z" fill="#9c9c9c" stroke="#909090" stroke-width="0.8" stroke-linejoin="round"/>
<path d="M366.2,690.4 V692.8 H389.9 V690.4" fill="none" stroke="#555" stroke-width="1.7"/>
<path d="M397,690.4 V692.8 H399.5 V690.4" fill="none" stroke="#555" stroke-width="1.7"/>
<path d="M349.5,696.3 V698.7 H352.9 V696.3" fill="none" stroke="#555" stroke-width="1.7"/>
<path d="M355.4,696.3 V698.7 H406.8 V696.3" fill="none" stroke="#555" stroke-width="1.7"/>
<line x1="317.4" y1="736.06" x2="413.8" y2="736.06" stroke="#a8a8a8" stroke-width="1.6"/>
<path d="M355,736.06 L356.08,736.04 L357.66,736.03 L359.43,736 L361.08,735.91 L362.3,735.76 L362.99,735.56 L363.35,735.33 L363.55,735.04 L363.71,734.63 L364,734.06 L364.42,733.25 L364.86,732.24 L365.32,731.14 L365.8,730.07 L366.3,729.16 L366.82,728.39 L367.36,727.68 L367.91,727.05 L368.46,726.54 L369,726.16 L369.51,726.04 L370.01,726.17 L370.51,726.36 L371.03,726.42 L371.6,726.16 L372.24,725.37 L372.94,724.18 L373.65,722.9 L374.35,721.85 L375,721.36 L375.59,721.64 L376.14,722.49 L376.66,723.57 L377.18,724.54 L377.7,725.06 L378.22,725.05 L378.74,724.74 L379.26,724.25 L379.78,723.71 L380.3,723.26 L380.82,722.82 L381.34,722.3 L381.86,721.82 L382.41,721.47 L383,721.36 L383.65,721.52 L384.35,721.87 L385.06,722.38 L385.76,723.02 L386.4,723.76 L386.98,724.65 L387.52,725.71 L388.03,726.86 L388.52,728.04 L389,729.16 L389.43,730.32 L389.82,731.58 L390.2,732.78 L390.61,733.79 L391.1,734.46 L391.67,734.71 L392.3,734.62 L392.97,734.34 L393.68,734.01 L394.4,733.76 L395.16,733.55 L395.95,733.29 L396.77,733.05 L397.59,732.88 L398.4,732.86 L399.22,733.02 L400.06,733.32 L400.89,733.7 L401.68,734.1 L402.4,734.46 L403.07,734.81 L403.7,735.18 L404.28,735.54 L404.75,735.84 L405.1,736.06Z" fill="#5f5f5f" stroke="#3c3c3c" stroke-width="0.8" stroke-linejoin="round"/>
<path d="M368.7,739.66 V742.06 H387.6 V739.66" fill="none" stroke="#262626" stroke-width="1.7"/>
<path d="M364.1,745.56 V747.96 H401.4 V745.56" fill="none" stroke="#262626" stroke-width="1.7"/>
<line x1="305.7" y1="783.96" x2="410.7" y2="783.96" stroke="#a8a8a8" stroke-width="1.6"/>
<path d="M325.5,783.96 L327.4,783.89 L330.17,783.8 L333.28,783.68 L336.2,783.47 L338.4,783.16 L339.76,782.67 L340.61,782.01 L341.17,781.31 L341.64,780.65 L342.2,780.16 L342.85,779.85 L343.45,779.64 L344.03,779.52 L344.61,779.43 L345.2,779.36 L345.77,779.32 L346.29,779.34 L346.84,779.38 L347.49,779.4 L348.3,779.36 L349.39,779.32 L350.71,779.31 L352.09,779.24 L353.38,779.02 L354.4,778.56 L355.06,777.73 L355.45,776.6 L355.75,775.34 L356.11,774.17 L356.7,773.26 L357.6,772.69 L358.71,772.32 L359.9,772.06 L361.04,771.81 L362,771.46 L362.75,770.92 L363.36,770.26 L363.9,769.61 L364.43,769.13 L365,768.96 L365.62,769.2 L366.24,769.76 L366.86,770.48 L367.48,771.2 L368.1,771.76 L368.7,772.06 L369.3,772.19 L369.9,772.33 L370.5,772.64 L371.1,773.26 L371.7,774.5 L372.28,776.26 L372.88,778.08 L373.51,779.53 L374.2,780.16 L374.98,779.63 L375.84,778.22 L376.72,776.47 L377.59,774.91 L378.4,774.06 L379.14,774.05 L379.84,774.53 L380.51,775.31 L381.16,776.21 L381.8,777.06 L382.4,777.91 L382.95,778.9 L383.5,779.91 L384.1,780.86 L384.8,781.66 L385.69,782.3 L386.75,782.86 L387.81,783.32 L388.75,783.68 L389.4,783.96Z" fill="#5f5f5f" stroke="#3c3c3c" stroke-width="0.8" stroke-linejoin="round"/>
<path d="M356.7,787.56 V789.96 H372.6 V787.56" fill="none" stroke="#262626" stroke-width="1.7"/>
<path d="M377.3,787.56 V789.96 H380.2 V787.56" fill="none" stroke="#262626" stroke-width="1.7"/>
<path d="M343.3,793.46 V795.86 H383.3 V793.46" fill="none" stroke="#262626" stroke-width="1.7"/>
<line x1="317.4" y1="832.66" x2="413.2" y2="832.66" stroke="#d8d8d8" stroke-width="1.6"/>
<path d="M355.5,832.66 L355.53,832.42 L355.54,832.08 L355.6,831.69 L355.79,831.3 L356.2,830.96 L356.9,830.76 L357.83,830.68 L358.88,830.56 L359.94,830.27 L360.9,829.66 L361.75,828.61 L362.58,827.2 L363.38,825.64 L364.15,824.13 L364.9,822.86 L365.61,821.82 L366.27,820.87 L366.93,820.04 L367.59,819.36 L368.3,818.86 L369.07,818.56 L369.89,818.44 L370.72,818.47 L371.54,818.62 L372.3,818.86 L373.01,819.32 L373.7,820.01 L374.36,820.75 L374.99,821.34 L375.6,821.56 L376.18,821.28 L376.72,820.62 L377.25,819.82 L377.77,819.09 L378.3,818.66 L378.83,818.52 L379.35,818.5 L379.87,818.65 L380.42,818.99 L381,819.56 L381.64,820.43 L382.31,821.59 L383.01,822.91 L383.72,824.27 L384.4,825.56 L385.09,826.86 L385.79,828.24 L386.48,829.58 L387.12,830.76 L387.7,831.66 L388.22,832.2 L388.69,832.48 L389.11,832.58 L389.45,832.61 L389.7,832.66Z" fill="#cbcbcb" stroke="#c2c2c2" stroke-width="0.8" stroke-linejoin="round"/>
<path d="M366.4,836.26 V838.66 H382.2 V836.26" fill="none" stroke="#aeaeae" stroke-width="1.7"/>
<path d="M357.7,842.16 V844.56 H386.9 V842.16" fill="none" stroke="#aeaeae" stroke-width="1.7"/>
<line x1="641" y1="930.28" x2="764.3" y2="930.28" stroke="#cbcbcb" stroke-width="1.6"/>
<path d="M677.3,930.28 L678.24,929.97 L679.6,929.57 L681.13,929.05 L682.58,928.43 L683.7,927.68 L684.42,926.7 L684.92,925.49 L685.28,924.22 L685.61,923.06 L686,922.18 L686.45,921.59 L686.9,921.17 L687.35,920.91 L687.81,920.82 L688.3,920.88 L688.81,921.24 L689.35,921.89 L689.9,922.63 L690.45,923.26 L691,923.58 L691.54,923.51 L692.08,923.18 L692.61,922.72 L693.15,922.21 L693.7,921.78 L694.26,921.34 L694.82,920.82 L695.38,920.34 L695.94,920.02 L696.5,919.98 L697.05,920.32 L697.61,920.95 L698.15,921.73 L698.69,922.52 L699.2,923.18 L699.68,923.74 L700.13,924.3 L700.57,924.8 L701.02,925.18 L701.5,925.38 L702.02,925.3 L702.57,924.99 L703.13,924.58 L703.68,924.23 L704.2,924.08 L704.69,924.27 L705.17,924.72 L705.63,925.19 L706.07,925.48 L706.5,925.38 L706.91,924.75 L707.29,923.75 L707.67,922.55 L708.03,921.37 L708.4,920.38 L708.75,919.6 L709.08,918.88 L709.42,918.24 L709.78,917.68 L710.2,917.18 L710.67,916.75 L711.17,916.38 L711.7,916.08 L712.28,915.88 L712.9,915.78 L713.56,915.8 L714.27,915.93 L715.01,916.14 L715.79,916.43 L716.6,916.78 L717.46,917.18 L718.38,917.65 L719.32,918.18 L720.24,918.79 L721.1,919.48 L721.89,920.32 L722.64,921.29 L723.37,922.31 L724.08,923.28 L724.8,924.08 L725.52,924.69 L726.24,925.17 L726.96,925.57 L727.68,925.96 L728.4,926.38 L729.15,926.85 L729.92,927.33 L730.69,927.81 L731.42,928.26 L732.1,928.68 L732.75,929.07 L733.38,929.45 L733.96,929.79 L734.45,930.07 L734.8,930.28Z" fill="#9c9c9c" stroke="#909090" stroke-width="0.8" stroke-linejoin="round"/>
<path d="M686.3,933.88 V936.28 H691.1 V933.88" fill="none" stroke="#555" stroke-width="1.7"/>
<path d="M693.2,933.88 V936.28 H698.4 V933.88" fill="none" stroke="#555" stroke-width="1.7"/>
<path d="M709.2,933.88 V936.28 H723.5 V933.88" fill="none" stroke="#555" stroke-width="1.7"/>
<path d="M685,939.78 V942.18 H729.9 V939.78" fill="none" stroke="#555" stroke-width="1.7"/>
<line x1="644.5" y1="978.4" x2="735.9" y2="978.4" stroke="#a8a8a8" stroke-width="1.6"/>
<path d="M675.8,978.4 L676.33,978.3 L677.08,978.2 L677.94,978.02 L678.82,977.68 L679.6,977.1 L680.3,976.2 L680.98,975.03 L681.64,973.71 L682.25,972.36 L682.8,971.1 L683.29,969.85 L683.72,968.54 L684.12,967.28 L684.47,966.16 L684.8,965.3 L685.07,964.73 L685.27,964.37 L685.46,964.19 L685.68,964.11 L686,964.1 L686.39,964.21 L686.82,964.46 L687.31,964.79 L687.9,965.1 L688.6,965.3 L689.5,965.36 L690.58,965.32 L691.72,965.26 L692.8,965.24 L693.7,965.3 L694.38,965.54 L694.92,965.92 L695.39,966.31 L695.83,966.58 L696.3,966.6 L696.76,966.26 L697.18,965.66 L697.62,964.94 L698.14,964.27 L698.8,963.8 L699.67,963.55 L700.71,963.43 L701.82,963.39 L702.92,963.39 L703.9,963.4 L704.8,963.39 L705.67,963.39 L706.48,963.43 L707.21,963.55 L707.8,963.8 L708.22,964.13 L708.48,964.51 L708.66,965.01 L708.84,965.69 L709.1,966.6 L709.42,967.9 L709.75,969.56 L710.12,971.34 L710.53,973 L711,974.3 L711.55,975.2 L712.16,975.84 L712.81,976.32 L713.5,976.71 L714.2,977.1 L714.98,977.48 L715.86,977.79 L716.72,978.05 L717.47,978.25 L718,978.4Z" fill="#5f5f5f" stroke="#3c3c3c" stroke-width="0.8" stroke-linejoin="round"/>
<path d="M684.9,982 V984.4 H687.2 V982" fill="none" stroke="#262626" stroke-width="1.7"/>
<path d="M690,982 V984.4 H692.9 V982" fill="none" stroke="#262626" stroke-width="1.7"/>
<path d="M699,982 V984.4 H708.9 V982" fill="none" stroke="#262626" stroke-width="1.7"/>
<path d="M681.5,987.9 V990.3 H710.2 V987.9" fill="none" stroke="#262626" stroke-width="1.7"/>
<line x1="645.1" y1="1026.84" x2="735.9" y2="1026.84" stroke="#a8a8a8" stroke-width="1.6"/>
<path d="M678.4,1026.84 L678.95,1026.17 L679.74,1025.23 L680.63,1024.13 L681.5,1022.93 L682.2,1021.74 L682.7,1020.47 L683.1,1019.05 L683.43,1017.62 L683.75,1016.31 L684.1,1015.24 L684.43,1014.45 L684.7,1013.86 L685,1013.41 L685.41,1013.05 L686,1012.74 L686.85,1012.48 L687.91,1012.31 L689.06,1012.2 L690.2,1012.15 L691.2,1012.14 L692.07,1012.2 L692.88,1012.35 L693.63,1012.53 L694.34,1012.68 L695,1012.74 L695.59,1012.67 L696.1,1012.5 L696.58,1012.31 L697.07,1012.16 L697.6,1012.14 L698.19,1012.3 L698.8,1012.61 L699.43,1012.95 L700.07,1013.22 L700.7,1013.34 L701.34,1013.22 L702,1012.92 L702.66,1012.56 L703.3,1012.26 L703.9,1012.14 L704.46,1012.26 L704.98,1012.53 L705.49,1012.87 L705.99,1013.18 L706.5,1013.34 L707.04,1013.24 L707.61,1012.96 L708.16,1012.66 L708.67,1012.52 L709.1,1012.74 L709.42,1013.37 L709.64,1014.31 L709.83,1015.43 L710.03,1016.65 L710.3,1017.84 L710.61,1019.1 L710.93,1020.49 L711.29,1021.89 L711.73,1023.18 L712.3,1024.24 L713.1,1025.04 L714.1,1025.68 L715.14,1026.17 L716.06,1026.55 L716.7,1026.84Z" fill="#5f5f5f" stroke="#3c3c3c" stroke-width="0.8" stroke-linejoin="round"/>
<path d="M685.7,1030.44 V1032.84 H690.2 V1030.44" fill="none" stroke="#262626" stroke-width="1.7"/>
<path d="M692.3,1030.44 V1032.84 H697.8 V1030.44" fill="none" stroke="#262626" stroke-width="1.7"/>
<path d="M700.5,1030.44 V1032.84 H701.5 V1030.44" fill="none" stroke="#262626" stroke-width="1.7"/>
<path d="M703.3,1030.44 V1032.84 H704.9 V1030.44" fill="none" stroke="#262626" stroke-width="1.7"/>
<path d="M706.6,1030.44 V1032.84 H709.3 V1030.44" fill="none" stroke="#262626" stroke-width="1.7"/>
<path d="M682.9,1036.34 V1038.74 H712 V1036.34" fill="none" stroke="#262626" stroke-width="1.7"/>
<line x1="665.5" y1="1075.3" x2="737.3" y2="1075.3" stroke="#d8d8d8" stroke-width="1.6"/>
<path d="M683.6,1075.3 L683.98,1073.89 L684.51,1071.83 L685.13,1069.53 L685.75,1067.45 L686.3,1066 L686.75,1065.28 L687.16,1064.98 L687.56,1065 L688,1065.22 L688.5,1065.5 L689.07,1066.04 L689.69,1066.92 L690.35,1067.85 L691.05,1068.57 L691.8,1068.8 L692.64,1068.27 L693.56,1067.17 L694.51,1065.9 L695.41,1064.84 L696.2,1064.4 L696.86,1064.73 L697.43,1065.56 L697.94,1066.66 L698.42,1067.82 L698.9,1068.8 L699.36,1069.69 L699.79,1070.65 L700.2,1071.54 L700.63,1072.23 L701.1,1072.6 L701.62,1072.48 L702.18,1071.97 L702.76,1071.29 L703.34,1070.69 L703.9,1070.4 L704.45,1070.62 L705.01,1071.18 L705.56,1071.8 L706.09,1072.18 L706.6,1072 L707.08,1071.08 L707.54,1069.63 L707.97,1067.92 L708.39,1066.25 L708.8,1064.9 L709.16,1063.8 L709.49,1062.75 L709.81,1061.87 L710.16,1061.28 L710.6,1061.1 L711.13,1061.45 L711.74,1062.25 L712.38,1063.31 L713.05,1064.46 L713.7,1065.5 L714.35,1066.48 L715.01,1067.53 L715.67,1068.57 L716.34,1069.55 L717,1070.4 L717.62,1071.09 L718.21,1071.66 L718.82,1072.16 L719.5,1072.63 L720.3,1073.1 L721.35,1073.61 L722.61,1074.12 L723.89,1074.6 L725.02,1075.01 L725.8,1075.3Z" fill="#cbcbcb" stroke="#c2c2c2" stroke-width="0.8" stroke-linejoin="round"/>
<path d="M686,1078.9 V1081.3 H688.8 V1078.9" fill="none" stroke="#aeaeae" stroke-width="1.7"/>
<path d="M690.9,1078.9 V1081.3 H699.2 V1078.9" fill="none" stroke="#aeaeae" stroke-width="1.7"/>
<path d="M708.5,1078.9 V1081.3 H716.2 V1078.9" fill="none" stroke="#aeaeae" stroke-width="1.7"/>
<path d="M685.5,1084.8 V1087.2 H720 V1084.8" fill="none" stroke="#aeaeae" stroke-width="1.7"/>
<line x1="664.1" y1="1172.7" x2="743.9" y2="1172.7" stroke="#cbcbcb" stroke-width="1.6"/>
<path d="M683.6,1172.7 L684.11,1172.07 L684.85,1171.12 L685.69,1170.09 L686.55,1169.21 L687.3,1168.7 L687.94,1168.69 L688.55,1169.01 L689.13,1169.51 L689.7,1169.99 L690.3,1170.3 L690.92,1170.44 L691.54,1170.54 L692.16,1170.56 L692.78,1170.49 L693.4,1170.3 L694,1169.86 L694.6,1169.18 L695.2,1168.47 L695.8,1167.94 L696.4,1167.8 L697,1168.2 L697.58,1169.01 L698.18,1169.99 L698.81,1170.9 L699.5,1171.5 L700.28,1171.74 L701.12,1171.77 L702,1171.68 L702.87,1171.56 L703.7,1171.5 L704.5,1171.59 L705.31,1171.76 L706.08,1171.9 L706.79,1171.85 L707.4,1171.5 L707.88,1170.76 L708.26,1169.72 L708.57,1168.51 L708.87,1167.23 L709.2,1166 L709.53,1164.76 L709.83,1163.43 L710.14,1162.1 L710.52,1160.89 L711,1159.9 L711.62,1159.13 L712.35,1158.51 L713.14,1158.04 L713.94,1157.7 L714.7,1157.5 L715.42,1157.48 L716.14,1157.64 L716.86,1157.91 L717.58,1158.22 L718.3,1158.5 L719.04,1158.67 L719.78,1158.78 L720.52,1158.94 L721.26,1159.27 L722,1159.9 L722.72,1160.97 L723.44,1162.4 L724.16,1163.98 L724.88,1165.45 L725.6,1166.6 L726.33,1167.35 L727.07,1167.86 L727.82,1168.24 L728.56,1168.58 L729.3,1169 L730.06,1169.51 L730.84,1170.06 L731.61,1170.59 L732.34,1171.08 L733,1171.5 L733.6,1171.84 L734.17,1172.13 L734.68,1172.37 L735.09,1172.56 L735.4,1172.7Z" fill="#9c9c9c" stroke="#909090" stroke-width="0.8" stroke-linejoin="round"/>
<path d="M710,1176.3 V1178.7 H726.1 V1176.3" fill="none" stroke="#555" stroke-width="1.7"/>
<path d="M686.3,1182.2 V1184.6 H698.7 V1182.2" fill="none" stroke="#555" stroke-width="1.7"/>
<path d="M708.4,1182.2 V1184.6 H732.2 V1182.2" fill="none" stroke="#555" stroke-width="1.7"/>
<line x1="674.3" y1="1220.83" x2="741.6" y2="1220.83" stroke="#a8a8a8" stroke-width="1.6"/>
<path d="M683,1220.83 L683.34,1220.72 L683.82,1220.55 L684.39,1220.37 L685.03,1220.18 L685.7,1220.03 L686.46,1219.89 L687.34,1219.74 L688.24,1219.61 L689.09,1219.53 L689.8,1219.53 L690.31,1219.67 L690.68,1219.94 L691,1220.23 L691.38,1220.46 L691.9,1220.53 L692.62,1220.36 L693.48,1220.01 L694.4,1219.6 L695.3,1219.27 L696.1,1219.13 L696.69,1219.25 L697.12,1219.54 L697.57,1219.91 L698.2,1220.28 L699.2,1220.53 L700.81,1220.67 L702.92,1220.74 L705.15,1220.78 L707.14,1220.81 L708.5,1220.83Z" fill="#5f5f5f" stroke="#3c3c3c" stroke-width="0.8" stroke-linejoin="round"/>
<path d="M708.5,1220.83 L708.77,1219.67 L709.14,1218.01 L709.59,1216.11 L710.08,1214.26 L710.6,1212.73 L711.16,1211.52 L711.77,1210.45 L712.41,1209.52 L713.06,1208.71 L713.7,1208.03 L714.3,1207.49 L714.89,1207.1 L715.49,1206.83 L716.12,1206.65 L716.8,1206.53 L717.57,1206.43 L718.42,1206.38 L719.28,1206.43 L720.13,1206.63 L720.9,1207.03 L721.58,1207.69 L722.21,1208.56 L722.81,1209.58 L723.4,1210.66 L724,1211.73 L724.62,1212.88 L725.24,1214.16 L725.86,1215.44 L726.48,1216.57 L727.1,1217.43 L727.72,1217.91 L728.34,1218.1 L728.96,1218.15 L729.58,1218.22 L730.2,1218.43 L730.87,1218.86 L731.59,1219.4 L732.28,1219.98 L732.88,1220.48 L733.3,1220.83Z" fill="#5f5f5f" stroke="#3c3c3c" stroke-width="0.8" stroke-linejoin="round"/>
<path d="M711.9,1224.43 V1226.83 H723.2 V1224.43" fill="none" stroke="#262626" stroke-width="1.7"/>
<path d="M687,1230.33 V1232.73 H689.6 V1230.33" fill="none" stroke="#262626" stroke-width="1.7"/>
<path d="M694.8,1230.33 V1232.73 H697.8 V1230.33" fill="none" stroke="#262626" stroke-width="1.7"/>
<path d="M709.3,1230.33 V1232.73 H732 V1230.33" fill="none" stroke="#262626" stroke-width="1.7"/>
<line x1="673.3" y1="1270.1" x2="739.5" y2="1270.1" stroke="#a8a8a8" stroke-width="1.6"/>
<path d="M684.2,1270.1 L684.55,1269.41 L685.04,1268.39 L685.61,1267.27 L686.19,1266.23 L686.7,1265.5 L687.15,1265.08 L687.57,1264.83 L687.98,1264.74 L688.39,1264.8 L688.8,1265 L689.21,1265.48 L689.62,1266.25 L690.02,1267.1 L690.45,1267.79 L690.9,1268.1 L691.39,1267.93 L691.9,1267.42 L692.44,1266.74 L692.97,1266.05 L693.5,1265.5 L694.03,1265.05 L694.57,1264.59 L695.1,1264.19 L695.62,1263.94 L696.1,1263.9 L696.54,1264.15 L696.94,1264.64 L697.32,1265.26 L697.7,1265.91 L698.1,1266.5 L698.49,1267.08 L698.86,1267.71 L699.25,1268.32 L699.68,1268.81 L700.2,1269.1 L700.84,1269.1 L701.58,1268.86 L702.36,1268.53 L703.12,1268.23 L703.8,1268.1 L704.39,1268.32 L704.94,1268.8 L705.44,1269.27 L705.93,1269.46 L706.4,1269.1 L706.85,1267.97 L707.28,1266.25 L707.68,1264.26 L708.09,1262.34 L708.5,1260.8 L708.92,1259.67 L709.34,1258.72 L709.77,1257.94 L710.19,1257.27 L710.6,1256.7 L710.99,1256.2 L711.35,1255.81 L711.73,1255.53 L712.13,1255.38 L712.6,1255.4 L713.15,1255.62 L713.76,1256.02 L714.41,1256.55 L715.06,1257.13 L715.7,1257.7 L716.32,1258.28 L716.94,1258.93 L717.56,1259.59 L718.18,1260.23 L718.8,1260.8 L719.44,1261.25 L720.09,1261.62 L720.73,1261.96 L721.34,1262.37 L721.9,1262.9 L722.37,1263.62 L722.76,1264.47 L723.14,1265.37 L723.53,1266.24 L724,1267 L724.54,1267.65 L725.12,1268.25 L725.73,1268.78 L726.39,1269.24 L727.1,1269.6 L727.94,1269.84 L728.9,1269.98 L729.87,1270.04 L730.71,1270.07 L731.3,1270.1Z" fill="#5f5f5f" stroke="#3c3c3c" stroke-width="0.8" stroke-linejoin="round"/>
<path d="M695.8,1273.7 V1276.1 H696.3 V1273.7" fill="none" stroke="#262626" stroke-width="1.7"/>
<path d="M709.3,1273.7 V1276.1 H722.2 V1273.7" fill="none" stroke="#262626" stroke-width="1.7"/>
<path d="M685.5,1279.6 V1282 H698.9 V1279.6" fill="none" stroke="#262626" stroke-width="1.7"/>
<path d="M704.1,1279.6 V1282 H704.6 V1279.6" fill="none" stroke="#262626" stroke-width="1.7"/>
<path d="M706.4,1279.6 V1282 H724.8 V1279.6" fill="none" stroke="#262626" stroke-width="1.7"/>
<line x1="664.3" y1="1318.45" x2="738.3" y2="1318.45" stroke="#d8d8d8" stroke-width="1.6"/>
<path d="M683.3,1318.45 L683.71,1317.07 L684.3,1315.05 L684.98,1312.8 L685.64,1310.73 L686.2,1309.25 L686.61,1308.41 L686.95,1307.94 L687.25,1307.77 L687.59,1307.83 L688,1308.05 L688.51,1308.64 L689.08,1309.63 L689.69,1310.73 L690.3,1311.64 L690.9,1312.05 L691.49,1311.82 L692.09,1311.14 L692.68,1310.24 L693.26,1309.34 L693.8,1308.65 L694.29,1308.09 L694.73,1307.52 L695.17,1307.06 L695.61,1306.83 L696.1,1306.95 L696.65,1307.56 L697.25,1308.57 L697.85,1309.79 L698.45,1311.02 L699,1312.05 L699.5,1312.96 L699.96,1313.88 L700.41,1314.71 L700.85,1315.33 L701.3,1315.65 L701.76,1315.51 L702.22,1314.97 L702.68,1314.27 L703.14,1313.65 L703.6,1313.35 L704.06,1313.55 L704.52,1314.09 L704.98,1314.69 L705.44,1315.07 L705.9,1314.95 L706.35,1314.17 L706.79,1312.93 L707.24,1311.44 L707.7,1309.94 L708.2,1308.65 L708.74,1307.46 L709.32,1306.21 L709.91,1305.09 L710.51,1304.24 L711.1,1303.85 L711.67,1304.03 L712.23,1304.68 L712.8,1305.6 L713.38,1306.62 L714,1307.55 L714.66,1308.42 L715.36,1309.37 L716.07,1310.33 L716.79,1311.24 L717.5,1312.05 L718.18,1312.73 L718.85,1313.33 L719.52,1313.87 L720.23,1314.4 L721,1314.95 L721.87,1315.57 L722.81,1316.22 L723.79,1316.86 L724.73,1317.42 L725.6,1317.85 L726.43,1318.13 L727.25,1318.28 L728,1318.36 L728.64,1318.41 L729.1,1318.45Z" fill="#cbcbcb" stroke="#c2c2c2" stroke-width="0.8" stroke-linejoin="round"/>
<path d="M686.5,1322.05 V1324.45 H690.1 V1322.05" fill="none" stroke="#aeaeae" stroke-width="1.7"/>
<path d="M691.7,1322.05 V1324.45 H698.2 V1322.05" fill="none" stroke="#aeaeae" stroke-width="1.7"/>
<path d="M708.4,1322.05 V1324.45 H716.7 V1322.05" fill="none" stroke="#aeaeae" stroke-width="1.7"/>
<path d="M685.3,1327.95 V1330.35 H721.3 V1327.95" fill="none" stroke="#aeaeae" stroke-width="1.7"/>
<line x1="355.94" y1="367" x2="355.94" y2="1357" stroke="#000" stroke-opacity="0.53" stroke-width="2.4"/>
<line x1="467.36" y1="367" x2="467.36" y2="1357" stroke="#000" stroke-opacity="0.53" stroke-width="2.4"/>
<line x1="578.77" y1="367" x2="578.77" y2="1357" stroke="#000" stroke-opacity="0.53" stroke-width="2.4"/>
<line x1="690.19" y1="367" x2="690.19" y2="1357" stroke="#000" stroke-opacity="0.53" stroke-width="2.4"/>
<rect x="21.7" y="367" width="779.9" height="990" fill="none" stroke="#000" stroke-width="2"/>
<path d="M32.84,1357 V1352 M43.98,1357 V1352 M55.12,1357 V1352 M66.27,1357 V1352 M77.41,1357 V1352 M88.55,1357 V1352 M99.69,1357 V1352 M110.83,1357 V1352 M121.97,1357 V1352 M133.11,1357 V1347.5 M144.26,1357 V1352 M155.4,1357 V1352 M166.54,1357 V1352 M177.68,1357 V1352 M188.82,1357 V1352 M199.96,1357 V1352 M211.1,1357 V1352 M222.25,1357 V1352 M233.39,1357 V1352 M244.53,1357 V1347.5 M255.67,1357 V1352 M266.81,1357 V1352 M277.95,1357 V1352 M289.09,1357 V1352 M300.24,1357 V1352 M311.38,1357 V1352 M322.52,1357 V1352 M333.66,1357 V1352 M344.8,1357 V1352 M355.94,1357 V1347.5 M367.08,1357 V1352 M378.23,1357 V1352 M389.37,1357 V1352 M400.51,1357 V1352 M411.65,1357 V1352 M422.79,1357 V1352 M433.93,1357 V1352 M445.07,1357 V1352 M456.22,1357 V1352 M467.36,1357 V1347.5 M478.5,1357 V1352 M489.64,1357 V1352 M500.78,1357 V1352 M511.92,1357 V1352 M523.06,1357 V1352 M534.21,1357 V1352 M545.35,1357 V1352 M556.49,1357 V1352 M567.63,1357 V1352 M578.77,1357 V1347.5 M589.91,1357 V1352 M601.05,1357 V1352 M612.2,1357 V1352 M623.34,1357 V1352 M634.48,1357 V1352 M645.62,1357 V1352 M656.76,1357 V1352 M667.9,1357 V1352 M679.04,1357 V1352 M690.19,1357 V1347.5 M701.33,1357 V1352 M712.47,1357 V1352 M723.61,1357 V1352 M734.75,1357 V1352 M745.89,1357 V1352 M757.03,1357 V1352 M768.18,1357 V1352 M779.32,1357 V1352 M790.46,1357 V1352" stroke="#000" stroke-width="1.9" fill="none"/>
<text transform="translate(21.7,1379) scale(1,1.0)" font-family="'Liberation Sans', Arial, sans-serif" font-size="16" text-anchor="middle" fill="#000" stroke="#000" stroke-width="0.25">4500</text>
<text transform="translate(133.11,1379) scale(1,1.0)" font-family="'Liberation Sans', Arial, sans-serif" font-size="16" text-anchor="middle" fill="#000" stroke="#000" stroke-width="0.25">4000</text>
<text transform="translate(244.53,1379) scale(1,1.0)" font-family="'Liberation Sans', Arial, sans-serif" font-size="16" text-anchor="middle" fill="#000" stroke="#000" stroke-width="0.25">3500</text>
<text transform="translate(355.94,1379) scale(1,1.0)" font-family="'Liberation Sans', Arial, sans-serif" font-size="16" text-anchor="middle" fill="#000" stroke="#000" stroke-width="0.25">3000</text>
<text transform="translate(467.36,1379) scale(1,1.0)" font-family="'Liberation Sans', Arial, sans-serif" font-size="16" text-anchor="middle" fill="#000" stroke="#000" stroke-width="0.25">2500</text>
<text transform="translate(578.77,1379) scale(1,1.0)" font-family="'Liberation Sans', Arial, sans-serif" font-size="16" text-anchor="middle" fill="#000" stroke="#000" stroke-width="0.25">2000</text>
<text transform="translate(690.19,1379) scale(1,1.0)" font-family="'Liberation Sans', Arial, sans-serif" font-size="16" text-anchor="middle" fill="#000" stroke="#000" stroke-width="0.25">1500</text>
<text transform="translate(801.6,1379) scale(1,1.0)" font-family="'Liberation Sans', Arial, sans-serif" font-size="16" text-anchor="middle" fill="#000" stroke="#000" stroke-width="0.25">1000</text>
<text transform="translate(412,1405.6) scale(1,1.0)" font-family="'Liberation Sans', Arial, sans-serif" font-size="16" text-anchor="middle" fill="#000" stroke="#000" stroke-width="0.25">Calibrated date (cal.BP)</text>
</svg>
</body></html>
